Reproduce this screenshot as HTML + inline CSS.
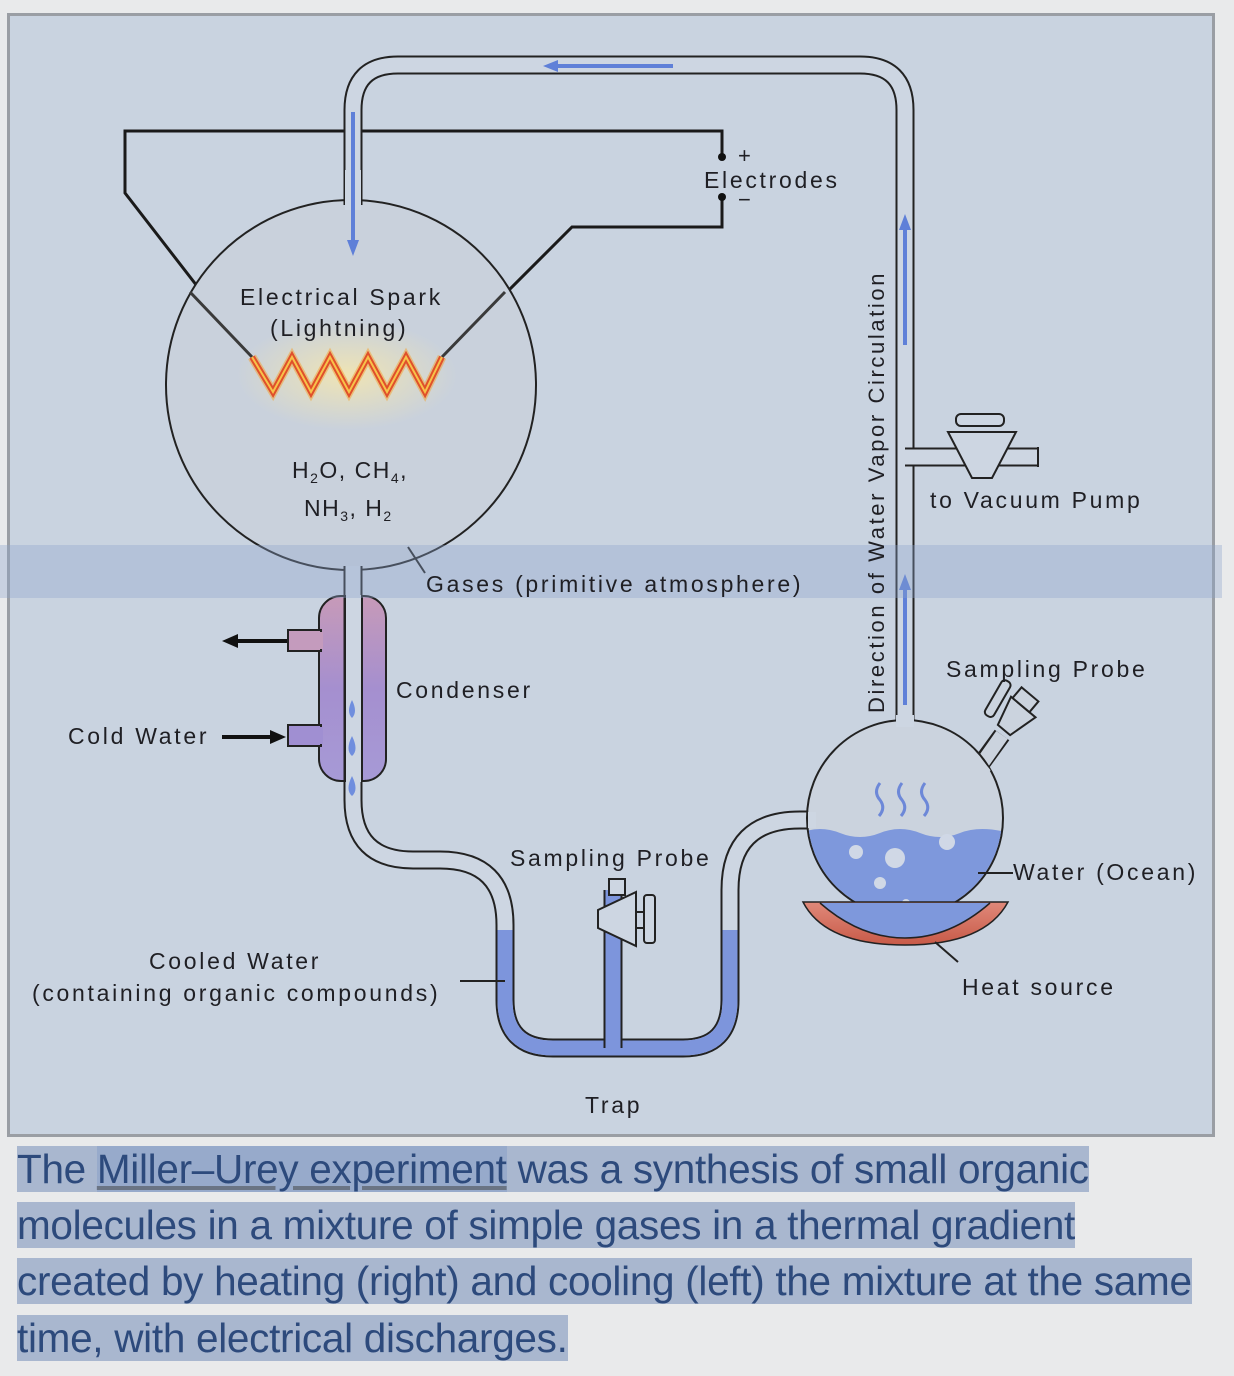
<!DOCTYPE html>
<html><head><meta charset="utf-8"><style>
html,body{margin:0;padding:0;background:#e9eaeb;width:1234px;height:1376px;overflow:hidden}
svg{position:absolute;left:0;top:0}
.cap{position:absolute;left:17px;font-family:"Liberation Sans",sans-serif;font-size:40.5px;color:#2d4a7c;line-height:43px;letter-spacing:-0.3px;white-space:nowrap}
.cap span{background:#a9b7cf}
</style></head><body>
<svg width="1234" height="1376" viewBox="0 0 1234 1376" font-family="Liberation Sans, sans-serif">
<defs>
<linearGradient id="cond" x1="0" y1="0" x2="0" y2="1"><stop offset="0" stop-color="#c79ab8"/><stop offset="0.5" stop-color="#a58fcf"/><stop offset="1" stop-color="#a69ad6"/></linearGradient>
<radialGradient id="glow" cx="0.5" cy="0.5" r="0.5"><stop offset="0" stop-color="#f3e6b0" stop-opacity="0.9"/><stop offset="1" stop-color="#f3e6b0" stop-opacity="0"/></radialGradient>
<linearGradient id="heat" x1="0" y1="0" x2="0" y2="1"><stop offset="0" stop-color="#e0897a"/><stop offset="1" stop-color="#c85a48"/></linearGradient>
</defs>
<rect x="8.5" y="14.5" width="1205" height="1121" fill="#c9d3e0" stroke="#9a9ea4" stroke-width="3"/>
<g fill="none" stroke="#1a1a1a" stroke-width="3">
<path d="M722 157 L722 131 L125 131 L125 193 L252 357" />
<path d="M722 197 L722 227 L572 227 L442 357"/>
</g>
<circle cx="722" cy="157" r="4" fill="#111"/><circle cx="722" cy="197" r="4" fill="#111"/>
<circle cx="351" cy="385" r="185" fill="#c9d1dc" stroke="#222" stroke-width="2"/>
<ellipse cx="347" cy="375" rx="110" ry="55" fill="url(#glow)"/>
<g fill="none" stroke="#3a3a3a" stroke-width="3"><path d="M190 292 L252 357"/><path d="M505 292 L442 357"/></g>
<g fill="none" stroke-linejoin="round">
<path d="M353 205 L353 110 Q353 65 398 65 L860 65 Q905 65 905 110 L905 722" stroke="#222" stroke-width="19"/>
<path d="M353 205 L353 110 Q353 65 398 65 L860 65 Q905 65 905 110 L905 722" stroke="#cdd6e2" stroke-width="15"/>
<path d="M905 457 L1038 457" stroke="#222" stroke-width="19"/>
<path d="M905 457 L1038 457" stroke="#cdd6e2" stroke-width="15"/>
</g>
<rect x="345" y="170" width="16" height="40" fill="#cdd6e2"/>
<path d="M948 432 L1016 432 L992 478 L972 478 Z" fill="#cdd6e2" stroke="#222" stroke-width="2"/>
<rect x="956" y="414" width="48" height="12" rx="5" fill="#cdd6e2" stroke="#222" stroke-width="2"/>
<path d="M1038 447 L1038 467" stroke="#222" stroke-width="2"/>
<g stroke="#5f80d8" stroke-width="4" fill="#5f80d8">
<line x1="673" y1="66" x2="555" y2="66"/><path d="M543 66 L558 60 L558 72 Z" stroke="none"/>
<line x1="353" y1="112" x2="353" y2="240"/><path d="M353 256 L347 240 L359 240 Z" stroke="none"/>
<line x1="905" y1="345" x2="905" y2="228"/><path d="M905 214 L899 230 L911 230 Z" stroke="none"/>
<line x1="905" y1="705" x2="905" y2="588"/><path d="M905 574 L899 590 L911 590 Z" stroke="none"/>
</g>
<path d="M252 357 L273 392 L292 357 L311 392 L330 357 L349 392 L368 357 L387 392 L406 357 L425 392 L442 357" fill="none" stroke="#f3a030" stroke-width="9" opacity="0.5"/>
<path d="M252 357 L273 392 L292 357 L311 392 L330 357 L349 392 L368 357 L387 392 L406 357 L425 392 L442 357" fill="none" stroke="#e0502a" stroke-width="6"/>
<path d="M252 357 L273 392 L292 357 L311 392 L330 357 L349 392 L368 357 L387 392 L406 357 L425 392 L442 357" fill="none" stroke="#f7c24a" stroke-width="2"/>
<rect x="319" y="596" width="67" height="185" rx="22" fill="url(#cond)" stroke="#222" stroke-width="2"/>
<rect x="288" y="630" width="33" height="21" fill="#c49bbd" stroke="#222" stroke-width="2"/>
<rect x="288" y="725" width="33" height="21" fill="#a08fd2" stroke="#222" stroke-width="2"/>
<rect x="319" y="632" width="4" height="17" fill="#c49bbd"/><rect x="319" y="727" width="4" height="17" fill="#a08fd2"/>
<g fill="none">
<path d="M353 566 L353 800 Q353 860 413 860 L440 860 Q505 860 505 925 L505 1000 Q505 1048 553 1048 L683 1048 Q730 1048 730 1000 L730 890 Q730 820 800 820 L815 820" stroke="#222" stroke-width="19"/>
<path d="M353 566 L353 800 Q353 860 413 860 L440 860 Q505 860 505 925 L505 1000 Q505 1048 553 1048 L683 1048 Q730 1048 730 1000 L730 890 Q730 820 800 820 L815 820" stroke="#cdd6e2" stroke-width="15"/>
<path d="M505 930 L505 1000 Q505 1048 553 1048 L683 1048 Q730 1048 730 1000 L730 930" stroke="#7d95dc" stroke-width="15"/>
<path d="M613 1048 L613 890" stroke="#222" stroke-width="19"/>
<path d="M613 1052 L613 890" stroke="#7d95dc" stroke-width="15"/>
</g>
<rect x="346" y="595" width="15" height="187" fill="#cdd6e2"/>
<line x1="345" y1="595" x2="345" y2="782" stroke="#222" stroke-width="2"/><line x1="362" y1="595" x2="362" y2="782" stroke="#222" stroke-width="2"/>
<g fill="#6f8ede"><path d="M352 700 Q346 712 352 718 Q358 712 352 700Z"/><path d="M352 736 Q345 750 352 756 Q359 750 352 736Z"/><path d="M352 776 Q345 790 352 796 Q359 790 352 776Z"/></g>
<rect x="609" y="879" width="16" height="16" fill="#cdd6e2" stroke="#222" stroke-width="2"/>
<path d="M636 892 L598 910 L598 928 L636 946 Z" fill="#cdd6e2" stroke="#222" stroke-width="2"/>
<rect x="644" y="895" width="11" height="48" rx="3" fill="#cdd6e2" stroke="#222" stroke-width="2"/>
<line x1="636" y1="912" x2="644" y2="912" stroke="#222" stroke-width="2"/><line x1="636" y1="928" x2="644" y2="928" stroke="#222" stroke-width="2"/>
<!-- right flask side arm -->
<path d="M978 768 L1002 735" stroke="#222" stroke-width="18"/><path d="M976 772 L1002 735" stroke="#cbd3de" stroke-width="14"/>
<circle cx="905" cy="818" r="98" fill="#cbd3de" stroke="#222" stroke-width="2"/>
<path d="M968 752 L986 774" stroke="#cbd3de" stroke-width="12"/>
<rect x="896" y="715" width="18" height="12" fill="#cdd6e2"/>
<rect x="808" y="812" width="8" height="16" fill="#cdd6e2"/>
<clipPath id="fc"><circle cx="905" cy="818" r="97"/></clipPath>
<path d="M800 833 Q820 825 840 833 T880 833 T920 833 T960 833 T1010 833 L1010 930 L800 930Z" fill="#7e98dc" clip-path="url(#fc)"/>
<g fill="#d0d8e6"><circle cx="856" cy="852" r="7"/><circle cx="895" cy="858" r="10"/><circle cx="947" cy="842" r="8"/><circle cx="880" cy="883" r="6"/><circle cx="906" cy="903" r="4"/></g>
<g fill="none" stroke="#6d88d8" stroke-width="3"><path d="M880 783 Q873 792 880 800 Q886 808 879 816"/><path d="M902 783 Q895 792 902 800 Q908 808 901 816"/><path d="M925 783 Q918 792 925 800 Q931 808 924 816"/></g>
<g transform="translate(1004 730) rotate(40)" fill="#cbd3de" stroke="#222" stroke-width="2">
<path d="M-8 0 L8 0 L16 -30 L-16 -30 Z"/>
<rect x="-14" y="-44" width="22" height="14" transform="rotate(0)"/>
<rect x="-30" y="-40" width="10" height="40" rx="4" transform="rotate(-10 -25 -20)"/>
</g>
<path d="M803 902 L1008 902 Q985 945 905 945 Q825 945 803 902 Z" fill="url(#heat)" stroke="#222" stroke-width="1.5"/>
<path d="M820 903 Q860 938 905 938 Q950 938 990 903" fill="#7e98dc" stroke="#222" stroke-width="1.5"/>
<g stroke="#222" stroke-width="2"><line x1="408" y1="547" x2="425" y2="573"/><line x1="460" y1="981" x2="505" y2="981"/><line x1="978" y1="873" x2="1013" y2="873"/><line x1="935" y1="942" x2="958" y2="962"/></g>
<g stroke="#111" stroke-width="4" fill="#111">
<line x1="287" y1="641" x2="236" y2="641"/><path d="M222 641 L238 634 L238 648Z" stroke="none"/>
<line x1="222" y1="737" x2="272" y2="737"/><path d="M286 737 L270 730 L270 744Z" stroke="none"/>
</g>
<rect x="0" y="545" width="1222" height="53" fill="#8ba2cc" opacity="0.35"/>
<g fill="#1f1f24" font-size="23" letter-spacing="2.7">
<text x="240" y="305">Electrical Spark</text>
<text x="270" y="336">(Lightning)</text>
<text x="292" y="478" letter-spacing="1.5">H<tspan font-size="14" dy="5">2</tspan><tspan dy="-5">O, CH</tspan><tspan font-size="14" dy="5">4</tspan><tspan dy="-5">,</tspan></text>
<text x="304" y="516" letter-spacing="1.5">NH<tspan font-size="14" dy="5">3</tspan><tspan dy="-5">, H</tspan><tspan font-size="14" dy="5">2</tspan></text>
<text x="738" y="163" font-size="22">+</text>
<text x="704" y="188">Electrodes</text>
<text x="738" y="207" font-size="22">−</text>
<text x="426" y="592">Gases (primitive atmosphere)</text>
<text x="396" y="698">Condenser</text>
<text x="68" y="744">Cold Water</text>
<text x="510" y="866">Sampling Probe</text>
<text x="149" y="969">Cooled Water</text>
<text x="32" y="1001">(containing organic compounds)</text>
<text x="585" y="1113">Trap</text>
<text x="930" y="508">to Vacuum Pump</text>
<text x="946" y="677">Sampling Probe</text>
<text x="1013" y="880">Water (Ocean)</text>
<text x="962" y="995">Heat source</text>
<text transform="translate(884 713) rotate(-90)" font-size="22" letter-spacing="2.6">Direction of Water Vapor Circulation</text>
</g>
</svg>
<div class="cap" style="top:1148px"><span>The <span style="background:#97aacb;text-decoration:underline;text-decoration-color:#6a7484">Miller–Urey experiment</span> was a synthesis of small organic</span></div>
<div class="cap" style="top:1204px"><span>molecules in a mixture of simple gases in a thermal gradient</span></div>
<div class="cap" style="top:1260px"><span>created by heating (right) and cooling (left) the mixture at the same</span></div>
<div class="cap" style="top:1317px"><span>time, with electrical discharges.</span></div>
</body></html>
